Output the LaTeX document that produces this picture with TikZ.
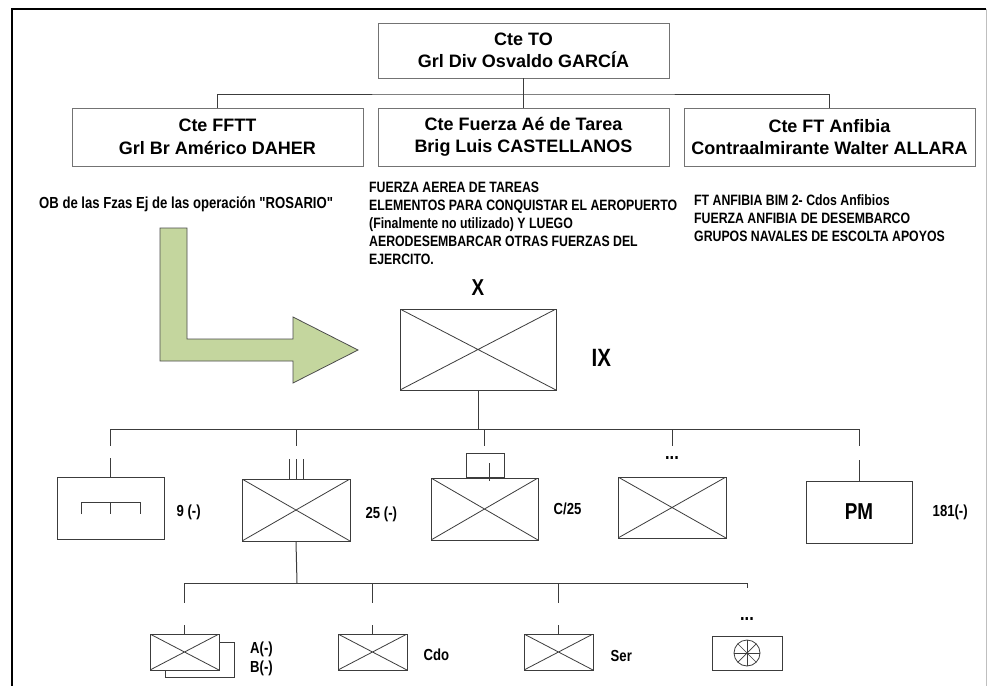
\documentclass[tikz,border=0pt]{standalone}
\usepackage{fontspec}
\setmainfont{Liberation Sans}
\newfontfamily\narrowsf[FakeStretch=0.82]{Liberation Sans}
\usetikzlibrary{positioning}

\definecolor{arrowgreen}{RGB}{196,214,158}
\definecolor{linegray}{RGB}{60,60,60}

\tikzset{
  cmdbox/.style={draw=black!55, line width=0.9pt, minimum width=291pt, inner sep=0pt,
    align=center, font=\fontsize{18}{22.5}\selectfont\bfseries},
  unitbox/.style={draw=linegray, line width=1pt, inner sep=0pt, fill=white},
  xunit/.style={unitbox, path picture={
    \draw[linegray, line width=0.8pt]
      (path picture bounding box.north west) -- (path picture bounding box.south east)
      (path picture bounding box.south west) -- (path picture bounding box.north east);}},
  blocktext/.style={inner sep=0pt, align=left, font=\narrowsf\bfseries\fontsize{15}{18}\selectfont},
  unitlbl/.style={inner sep=0pt, font=\narrowsf\bfseries\fontsize{16}{16}\selectfont},
  dots/.style={inner sep=0pt, font=\narrowsf\bfseries\fontsize{20}{20}\selectfont},
  link/.style={draw=linegray, line width=1pt},
}

\begin{document}
\begin{tikzpicture}[x=1pt, y=-1pt]
\useasboundingbox (0,0) rectangle (989,686);
\fill[white] (0,0) rectangle (989,686);

% frame
\draw[line width=1.6pt] (12,690) -- (12,9) -- (986,9);
\draw[black!25, line width=1pt] (986,9) -- (986,690);

% commanders
\node at (523.5,50.5) (cteto) [cmdbox, minimum height=55pt] {Cte TO\\Grl Div Osvaldo GARCÍA};
\node at (217.5,137) (fftt) [cmdbox, minimum height=58pt] {Cte FFTT\\Grl Br Américo DAHER};
\node at (523.5,137) (fat) [cmdbox, minimum height=58pt] {Cte Fuerza Aé de Tarea\\Brig Luis CASTELLANOS};
\node at (829.5,137) (fta) [cmdbox, minimum height=58pt] {Cte FT Anfibia\\Contraalmirante Walter ALLARA};
\coordinate (bus0) at (523.5,94);
\draw[link] (cteto.south) -- (fat.north);
\draw[link] (fftt.north) |- (bus0) -| (fta.north);

% notes under the commanders
\node at (39,208) (obtxt) [anchor=base west, inner sep=0pt, font=\narrowsf\bfseries\fontsize{16}{16}\selectfont]
  {OB de las Fzas Ej de las operación "ROSARIO"};
\node at (369,182) (fattxt) [blocktext, anchor=north west]
  {FUERZA AEREA DE TAREAS\\ELEMENTOS PARA CONQUISTAR EL AEROPUERTO\\(Finalmente no utilizado) Y LUEGO\\AERODESEMBARCAR OTRAS FUERZAS DEL\\EJERCITO.};
\node at (694,194) (ftatxt) [blocktext, anchor=north west]
  {FT ANFIBIA BIM 2- Cdos Anfibios\\FUERZA ANFIBIA DE DESEMBARCO\\GRUPOS NAVALES DE ESCOLTA APOYOS};

% green arrow
\draw[fill=arrowgreen, draw=black!70, line width=0.8pt]
  (160,228) -- (187,228) -- (187,339) -- (293,339) -- (293,317) -- (358,350)
  -- (293,383) -- (293,361) -- (160,361) -- cycle;

% brigade
\node at (478,349.5) (brig) [xunit, minimum width=156pt, minimum height=81pt] {};
\node (brigech) [above=13pt of brig, inner sep=0pt, font=\narrowsf\bfseries\fontsize{23}{23}\selectfont] {X};
\node (brigname) [right=35pt of brig, yshift=-8pt, inner sep=0pt, font=\narrowsf\bfseries\fontsize{25}{25}\selectfont] {IX};

% units
\coordinate (bus1) at (478,429);
\draw[link] (brig.south) -- (bus1);
\node at (110.5,508) (u9) [unitbox, minimum width=107pt, minimum height=62pt] {};
\node at (296,510) (u25) [xunit, minimum width=108pt, minimum height=62pt] {};
\node at (484.5,509) (c25) [xunit, minimum width=107pt, minimum height=62pt] {};
\node at (672,507.5) (udots) [xunit, minimum width=108pt, minimum height=61pt] {};
\node at (859,512) (pm) [unitbox, minimum width=106pt, minimum height=62pt,
  font=\narrowsf\bfseries\fontsize{23}{23}\selectfont] {PM};
\draw[link] (u9.north |- bus1) -- (pm.north |- bus1);
\foreach \nm in {u9,u25,c25,udots,pm}
  \draw[link] (\nm.north |- bus1) -- ++(0,17);
% echelon marks
\draw[link] (u9.north) -- ++(0,-19);
\draw[link] (pm.north) -- ++(0,-21);
\foreach \dx in {-7,0,7}
  \draw[link] ([xshift=\dx pt]u25.north) -- ++(0,-20);
\draw[link] ([xshift=-18pt]c25.north) rectangle ++(38,-24);
\draw[link] ([shift={(5,3)}]c25.north) -- ++(0,-18);
\node (udotsech) [dots, above=17pt of udots] {...};
\draw[link] ([shift={(-29,6)}]u9.center) |- ([shift={(30,-6)}]u9.center) -- ([shift={(30,6)}]u9.center);
\draw[link] ([shift={(0,-6)}]u9.center) -- ([shift={(0,6)}]u9.center);
\node (l9) [unitlbl, right=12pt of u9, yshift=-4pt] {9 (-)};
\node (l25) [unitlbl, right=15pt of u25, yshift=-4pt] {25 (-)};
\node (lc25) [unitlbl, right=15pt of c25] {C/25};
\node (lpm) [unitlbl, right=20pt of pm] {181(-)};

% subunits of 25
\coordinate (bus2) at (297,583);
\draw[link] (u25.south) -- (bus2);
\node at (199.5,659.5) (ub) [unitbox, minimum width=69pt, minimum height=35pt] {};
\node at (184.5,652) (ua) [xunit, minimum width=69pt, minimum height=36pt] {};
\node at (372.5,652) (cdo) [xunit, minimum width=69pt, minimum height=36pt] {};
\node at (558.5,652) (ser) [xunit, minimum width=69pt, minimum height=36pt] {};
\node at (747,653) (svc) [unitbox, minimum width=70pt, minimum height=34pt] {};
\draw[link, line width=0.8pt] (svc.center) circle (13pt);
\foreach \a in {0,45,90,135}
  \draw[link, line width=0.7pt] ([shift={(\a:13pt)}]svc.center) -- ([shift={(\a+180:13pt)}]svc.center);
\draw[link] (ua.north |- bus2) -- (svc.north |- bus2);
\foreach \nm in {ua,cdo,ser}
  \draw[link] (\nm.north |- bus2) -- ++(0,20);
\draw[link] (svc.north |- bus2) -- ++(0,5);
\foreach \nm in {ua,cdo,ser}
  \draw[link] (\nm.north) -- ++(0,-9);
\node (svcech) [dots, above=15pt of svc] {...};
\node at (250,649) (la) [unitlbl, anchor=west] {A(-)};
\node at (250,668) (lb) [unitlbl, anchor=west] {B(-)};
\node (lcdo) [unitlbl, right=16pt of cdo, yshift=-3pt] {Cdo};
\node (lser) [unitlbl, right=17pt of ser, yshift=-4pt] {Ser};
\end{tikzpicture}
\end{document}
